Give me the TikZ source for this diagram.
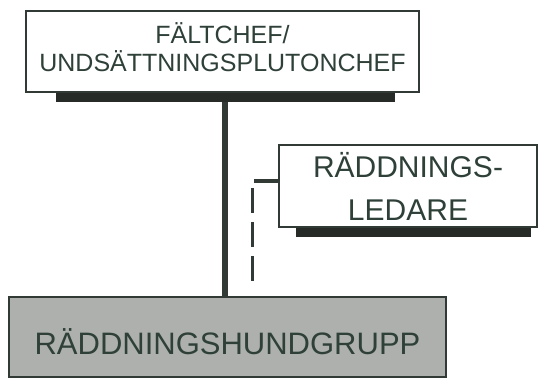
\documentclass[tikz,border=0pt]{standalone}
\usepackage{fontspec}
\setmainfont{Liberation Sans}
\usepackage{tikz}
\usetikzlibrary{calc}
\definecolor{ink}{HTML}{2E4038}
\definecolor{rim}{HTML}{323A36}
\definecolor{slab}{HTML}{262B28}
\definecolor{hundgray}{HTML}{ADB0AD}
\newcommand{\boxfont}[2]{\fontsize{#1}{#2}\selectfont}

\begin{document}
\begin{tikzpicture}[x=1pt,y=1pt]
  \useasboundingbox (0,0) rectangle (538,379);
  \tikzset{chart/.style={draw=rim,line width=1.6pt,fill=white,text=ink,align=center,inner sep=0pt}}
  \node[chart,minimum width=393,minimum height=81,text depth=8pt,font=\boxfont{25}{28}]
    (chef) at (222.5,327.5) {FÄLTCHEF/\\UNDSÄTTNINGSPLUTONCHEF};
  \node[chart,minimum width=258,minimum height=82,font=\boxfont{30}{43}]
    (ledare) at (408,193) {RÄDDNINGS-\\LEDARE};
  \node[chart,fill=hundgray,minimum width=437,minimum height=80,text height=36pt,text depth=0pt,font=\boxfont{31}{36}]
    (grupp) at (227.5,42) {RÄDDNINGSHUNDGRUPP};
  \coordinate (vtop) at ($(chef.south)+(2.5,0)$);
  \coordinate (dtop) at (252,191);
  \coordinate (dbot) at (252,90);
  \draw[rim,line width=6pt] (vtop) -- (vtop |- grupp.north);
  \draw[rim,line width=4pt] ($(ledare.west)+(-24,5)$) -- ($(ledare.west)+(0,5)$);
  \draw[rim,line width=3pt,dash pattern=on 25pt off 9pt] (dtop) -- (dbot);
  \fill[slab] ($(chef.south west)+(31,0)$) rectangle ($(chef.south east)+(-25,-9)$);
  \fill[slab] ($(ledare.south west)+(18,0)$) rectangle ($(ledare.south east)+(-7,-9)$);
\end{tikzpicture}
\end{document}
